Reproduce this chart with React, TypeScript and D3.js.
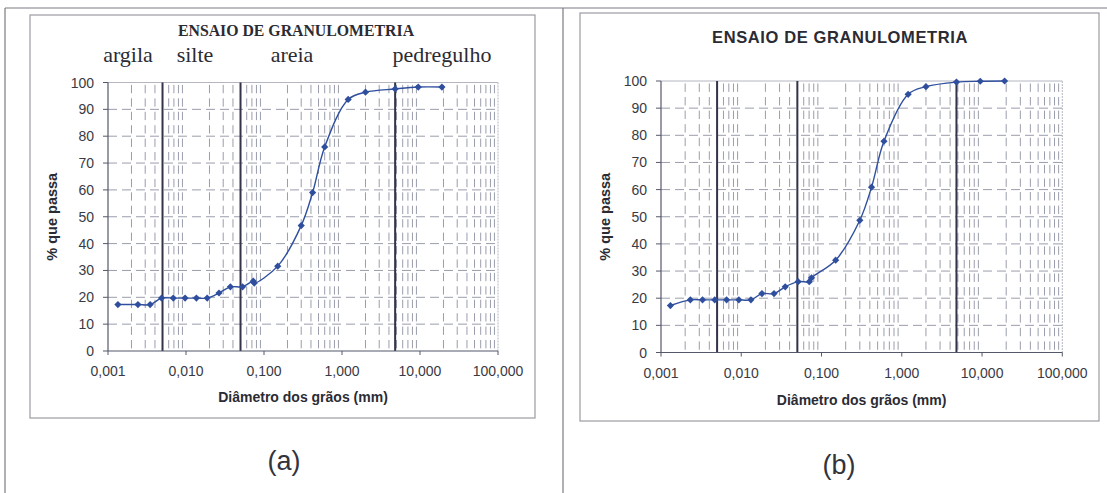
import React from "react";
import * as d3 from "d3";

// Sample (a): grain diameter (mm) and percentage passing
const diametersA = [0.00134, 0.00242, 0.00347, 0.00486, 0.00687, 0.00973, 0.0136, 0.0187, 0.0265, 0.0371, 0.0531, 0.0728, 0.075, 0.15, 0.3, 0.42, 0.6, 1.2, 2.0, 4.8, 9.5, 19.1];
const passingA = [17.3, 17.3, 17.3, 19.7, 19.7, 19.7, 19.7, 19.7, 21.6, 23.9, 23.9, 26.0, 25.3, 31.6, 46.7, 59.0, 76.0, 93.7, 96.4, 97.6, 98.3, 98.3];

// Sample (b)
const diametersB = [0.00131, 0.00232, 0.00329, 0.00467, 0.00657, 0.00933, 0.0132, 0.0181, 0.0256, 0.0353, 0.0511, 0.0704, 0.075, 0.15, 0.3, 0.42, 0.6, 1.2, 2.0, 4.8, 9.5, 19.1];
const passingB = [17.3, 19.4, 19.4, 19.4, 19.4, 19.4, 19.4, 21.7, 21.7, 24.2, 26.1, 26.1, 27.5, 34.0, 48.7, 60.9, 77.8, 95.1, 97.9, 99.6, 99.9, 100];

// Axes (mm, logarithmic)
const xDomain: [number, number] = [0.001, 100];
const xTickValues = [0.001, 0.01, 0.1, 1, 10, 100];
const xTickLabels = ["0,001", "0,010", "0,100", "1,000", "10,000", "100,000"];
const yTickValues = [0, 10, 20, 30, 40, 50, 60, 70, 80, 90, 100];

// Soil fraction limits (mm) and names
const zoneLimits = [0.005, 0.05, 4.8];
const zoneNames = ["argila", "silte", "areia", "pedregulho"];

const chartTitle = "ENSAIO DE GRANULOMETRIA";
const xAxisTitle = "Diâmetro dos grãos (mm)";
const yAxisTitle = "% que passa";

const SANS = "'Liberation Sans', Arial, sans-serif";
const SERIF = "'Liberation Serif', 'Times New Roman', serif";
const BLUE = "#2f4f9e";
const GRID = "#9a9eac";
const AXIS = "#55586a";
const INK = "#2b2b33";

type PanelProps = {
  diameters: number[];
  passing: number[];
  box: { x: number; y: number; w: number; h: number };
  plot: { left: number; right: number; top: number; bottom: number };
  serifTitle: boolean;
  titleX: number;
  titleY: number;
  zoneLabelX?: number[];
  yTitleX: number;
  xLabelY: number;
  xTitleY: number;
  yLabelGap: number;
  caption: string;
  captionX: number;
  captionY: number;
};

function Panel(p: PanelProps) {
  const x = d3.scaleLog().domain(xDomain).range([p.plot.left, p.plot.right]);
  const y = d3.scaleLinear().domain([0, 100]).range([p.plot.bottom, p.plot.top]);

  // minor gridlines at 2..9 of each decade
  const minor: number[] = [];
  for (let e = -3; e < 2; e++) {
    for (let m = 2; m <= 9; m++) minor.push(m * Math.pow(10, e));
  }

  const pts = p.diameters.map((d, i) => [x(d), y(p.passing[i])] as [number, number]);
  const line = d3.line().curve(d3.curveCatmullRom.alpha(0.5))(pts) || "";

  const rowH = Math.abs(y(10) - y(0));
  const vDash = `${(rowH / 2) * 0.62},${(rowH / 2) * 0.38}`;

  const diamond = (cx: number, cy: number, r = 3.6) =>
    `M${cx},${cy - r}L${cx + r},${cy}L${cx},${cy + r}L${cx - r},${cy}Z`;

  const midX = (p.plot.left + p.plot.right) / 2;
  const midY = (p.plot.top + p.plot.bottom) / 2;

  return (
    <g>
      <rect x={p.box.x} y={p.box.y} width={p.box.w} height={p.box.h} fill="#fff" stroke="#9a9aa2" strokeWidth={1.2} />
      {p.serifTitle ? (
        <text x={p.titleX} y={p.titleY} textAnchor="middle" fontFamily={SERIF} fontWeight="bold" fontSize={15.8} fill={INK}>
          {chartTitle}
        </text>
      ) : (
        <text x={p.titleX} y={p.titleY} textAnchor="middle" fontFamily={SANS} fontWeight="bold" fontSize={16.5} letterSpacing={0.6} fill={INK}>
          {chartTitle}
        </text>
      )}
      {p.zoneLabelX &&
        zoneNames.map((n, i) => (
          <text key={n} x={p.zoneLabelX![i]} y={p.titleY + 26} textAnchor="middle" fontFamily={SERIF} fontSize={22} fill={INK}>
            {n}
          </text>
        ))}

      {/* horizontal gridlines */}
      {yTickValues.slice(1, -1).map((v) => (
        <line key={"h" + v} x1={p.plot.left} x2={p.plot.right} y1={y(v)} y2={y(v)} stroke={GRID} strokeWidth={1} strokeDasharray="9,5" />
      ))}
      {/* vertical minor gridlines */}
      {minor.map((v) => (
        <line key={"v" + v} x1={x(v)} x2={x(v)} y1={p.plot.bottom} y2={p.plot.top} stroke={GRID} strokeWidth={1} strokeDasharray={vDash} strokeDashoffset={-rowH * 0.1} />
      ))}
      {/* plot border */}
      <line x1={p.plot.left} x2={p.plot.right} y1={p.plot.top} y2={p.plot.top} stroke="#b4b6c2" strokeWidth={1} />
      <line x1={p.plot.right} x2={p.plot.right} y1={p.plot.top} y2={p.plot.bottom} stroke="#b4b6c2" strokeWidth={1} strokeDasharray="2,1" />

      {/* soil fraction limits */}
      {zoneLimits.map((v) => (
        <line key={"z" + v} x1={x(v)} x2={x(v)} y1={p.plot.top} y2={p.plot.bottom} stroke="#33334a" strokeWidth={2} />
      ))}

      {/* axes */}
      <line x1={p.plot.left} x2={p.plot.left} y1={p.plot.top} y2={p.plot.bottom} stroke={AXIS} strokeWidth={1.2} />
      <line x1={p.plot.left} x2={p.plot.right} y1={p.plot.bottom} y2={p.plot.bottom} stroke={AXIS} strokeWidth={1.2} />
      {yTickValues.map((v) => (
        <g key={"yt" + v}>
          <line x1={p.plot.left - 5} x2={p.plot.left} y1={y(v)} y2={y(v)} stroke={AXIS} strokeWidth={1} />
          <text x={p.plot.left - p.yLabelGap} y={y(v) + 5} textAnchor="end" fontFamily={SANS} fontSize={14} fill="#3a3a44">
            {v}
          </text>
        </g>
      ))}
      {xTickValues.map((v, i) => (
        <g key={"xt" + v}>
          <line x1={x(v)} x2={x(v)} y1={p.plot.bottom} y2={p.plot.bottom + 4} stroke={AXIS} strokeWidth={1} />
          <text x={x(v)} y={p.xLabelY} textAnchor="middle" fontFamily={SANS} fontSize={14} fill="#3a3a44">
            {xTickLabels[i]}
          </text>
        </g>
      ))}
      <text x={midX} y={p.xTitleY} textAnchor="middle" fontFamily={SANS} fontWeight="bold" fontSize={14} fill={INK}>
        {xAxisTitle}
      </text>
      <text transform={`translate(${p.yTitleX},${midY}) rotate(-90)`} textAnchor="middle" dy="0.35em" fontFamily={SANS} fontWeight="bold" fontSize={14.5} fill={INK}>
        {yAxisTitle}
      </text>

      {/* grading curve */}
      <path d={line} fill="none" stroke={BLUE} strokeWidth={1.4} />
      {pts.map(([cx, cy], i) => (
        <path key={"m" + i} d={diamond(cx, cy)} fill={BLUE} />
      ))}

      <text x={p.captionX} y={p.captionY} textAnchor="middle" fontFamily={SANS} fontSize={27} fill="#33333b">
        {p.caption}
      </text>
    </g>
  );
}

export default function App() {
  return (
    <svg width={1107} height={493} style={{ display: "block", position: "absolute", left: 0, top: 0, background: "#fff" }}>
      <rect width={1107} height={493} fill="#fff" />
      {/* page frame */}
      <line x1={5} x2={1107} y1={8} y2={8} stroke="#7a7a84" strokeWidth={1.2} />
      <line x1={5} x2={5} y1={8} y2={493} stroke="#7a7a84" strokeWidth={1.2} />
      <line x1={563} x2={563} y1={8} y2={493} stroke="#7a7a84" strokeWidth={1.2} />

      <Panel
        diameters={diametersA}
        passing={passingA}
        box={{ x: 30, y: 15, w: 505, h: 403 }}
        plot={{ left: 108, right: 498, top: 82.5, bottom: 351 }}
        serifTitle={true}
        titleX={296}
        titleY={36}
        zoneLabelX={[128, 195, 292, 442]}
        yTitleX={52}
        xLabelY={376}
        xTitleY={402}
        yLabelGap={14}
        caption="(a)"
        captionX={284}
        captionY={470}
      />
      <Panel
        diameters={diametersB}
        passing={passingB}
        box={{ x: 580, y: 13, w: 519, h: 408 }}
        plot={{ left: 661, right: 1062.3, top: 81, bottom: 352.5 }}
        serifTitle={false}
        titleX={840}
        titleY={43}
        yTitleX={605}
        xLabelY={378}
        xTitleY={405}
        yLabelGap={14}
        caption="(b)"
        captionX={839}
        captionY={474}
      />
    </svg>
  );
}
